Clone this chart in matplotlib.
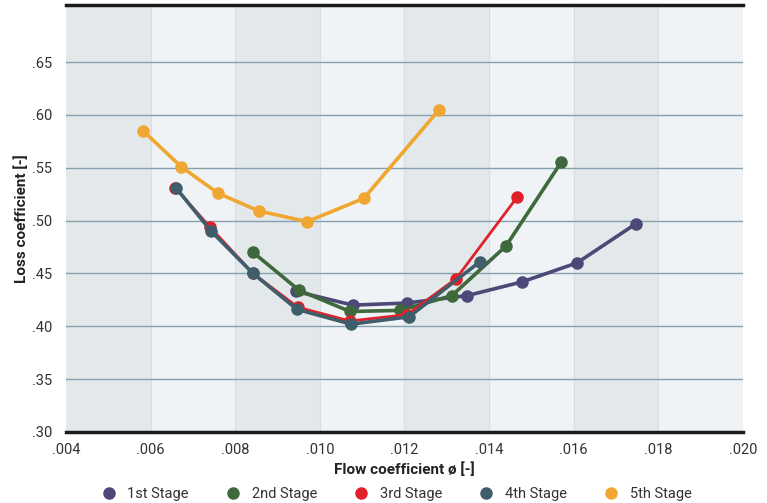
import matplotlib
matplotlib.use("Agg")
import matplotlib.pyplot as plt
from matplotlib.ticker import FuncFormatter, MultipleLocator, FixedLocator
from matplotlib.lines import Line2D

plt.rcParams['font.family'] = ['Roboto', 'DejaVu Sans']

stage_names = ["1st Stage", "2nd Stage", "3rd Stage", "4th Stage", "5th Stage"]
stage_colors = ["#4e4878", "#3f683d", "#e0202a", "#3f5d6b", "#f0a732"]

x1 = [0.00944, 0.01078, 0.01206, 0.01348, 0.01478, 0.01608, 0.01747]
y1 = [0.433, 0.420, 0.422, 0.429, 0.442, 0.460, 0.497]

x2 = [0.00842, 0.00951, 0.01071, 0.01189, 0.01312, 0.01440, 0.01570]
y2 = [0.470, 0.434, 0.414, 0.415, 0.429, 0.476, 0.555]

x3 = [0.00658, 0.00740, 0.00842, 0.00948, 0.01071, 0.01206, 0.01322, 0.01466]
y3 = [0.531, 0.494, 0.450, 0.418, 0.405, 0.411, 0.445, 0.522]

x4 = [0.00660, 0.00743, 0.00842, 0.00946, 0.01074, 0.01211, 0.01378]
y4 = [0.531, 0.490, 0.450, 0.416, 0.402, 0.409, 0.461]

x5 = [0.00582, 0.00672, 0.00759, 0.00856, 0.00970, 0.01104, 0.01282]
y5 = [0.585, 0.551, 0.526, 0.509, 0.499, 0.521, 0.605]

y_ticks = [0.30, 0.35, 0.40, 0.45, 0.50, 0.55, 0.60, 0.65]

xs = [x1, x2, x3, x4, x5]
ys = [y1, y2, y3, y4, y5]

fig = plt.figure(figsize=(7.67, 5.03), dpi=100)
ax = fig.add_axes([0.086, 0.1412, 0.8827, 0.849])

ax.set_xlim(0.004, 0.020)
ax.set_ylim(0.30, 0.704)

# alternating background bands
band_edges = [0.004 + 0.002 * i for i in range(9)]
for i in range(8):
    col = "#e3e8eb" if i % 2 == 0 else "#eff3f5"
    ax.axvspan(band_edges[i], band_edges[i + 1], color=col, lw=0, zorder=0)
for e in band_edges[1:-1]:
    ax.axvline(e, color="#d6dee2", lw=0.8, zorder=0.5)

ax.yaxis.set_major_locator(FixedLocator(y_ticks))
ax.xaxis.set_major_locator(MultipleLocator(0.002))
ax.grid(axis="y", color="#86a1ae", lw=1.0, zorder=1)
ax.set_axisbelow(True)

fmt = lambda v, p: ("%.3f" % v).lstrip("0")
fmty = lambda v, p: ("%.2f" % v).lstrip("0")
ax.xaxis.set_major_formatter(FuncFormatter(fmt))
ax.yaxis.set_major_formatter(FuncFormatter(fmty))

for s in ["left", "right"]:
    ax.spines[s].set_visible(False)
for s in ["top", "bottom"]:
    ax.spines[s].set_color("#1a1a1a")
    ax.spines[s].set_linewidth(2.5)

ax.tick_params(axis="both", length=0, labelsize=10.5, labelcolor="#333333")
ax.tick_params(axis="x", pad=8)
ax.tick_params(axis="y", pad=10)

order = [1, 2, 3, 0, 4]
lws = [2.6, 2.6, 2.0, 2.6, 2.6]
for i in order:
    ax.plot(xs[i], ys[i], color=stage_colors[i], lw=lws[i], marker="o",
            markersize=8, zorder=3 + i * 0.1, clip_on=False)

ax.set_xlabel("Flow coefficient ø [-]", fontsize=11, fontweight="bold", labelpad=4, color="#222222")
ax.set_ylabel("Loss coefficient [-]", fontsize=11, fontweight="bold", labelpad=2, color="#222222")

handles = [Line2D([], [], color=c, marker="o", linestyle="none", markersize=8) for c in stage_colors]
fig.legend(handles, stage_names, loc="center", bbox_to_anchor=(0.512, 0.018), ncol=5,
           frameon=False, fontsize=10.5, handletextpad=0.3, columnspacing=2.0,
           labelcolor="#333333")

fig.savefig("out.png", dpi=100)
